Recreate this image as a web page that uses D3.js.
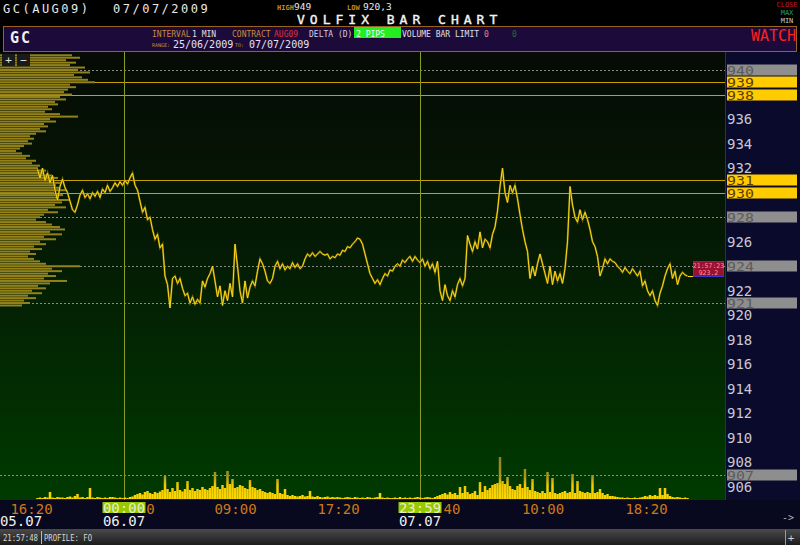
<!DOCTYPE html>
<html><head><meta charset="utf-8">
<script src="https://cdn.jsdelivr.net/npm/d3@7/dist/d3.min.js"></script>
<style>
html,body{margin:0;padding:0;background:#000;}
svg{display:block;}
text{font-family:"DejaVu Sans Mono","Liberation Mono",monospace;}
</style></head><body>
<svg id="c" width="800" height="545"></svg>
<script>
// ---------------- DATA ----------------
const priceStartSlot = 15; // first 1-min slot drawn
const prices = [
 931.9,931.2,932.0,931.0,931.6,930.8,931.4,930.2,929.4,930.5,
 931.1,930.4,930.0,929.3,928.6,928.4,929.0,929.8,930.2,929.6,
 929.9,929.5,930.0,929.7,930.1,929.6,930.3,930.0,930.6,930.1,
 930.4,930.8,930.5,930.9,930.6,931.0,930.7,931.2,931.6,930.6,
 930.2,929.3,928.4,928.8,927.8,928.0,927.0,926.2,926.6,925.5,
 925.8,923.2,922.5,920.6,923.0,923.2,922.6,923.0,922.2,921.6,
 921.8,921.0,921.5,920.9,921.3,921.0,922.8,922.3,923.0,923.4,
 924.0,922.8,921.5,922.4,920.8,922.0,921.2,922.6,921.5,925.8,
 924.0,922.0,921.0,922.8,921.4,922.3,922.8,922.4,923.6,924.6,
 924.2,923.6,922.8,922.6,923.0,924.0,924.4,923.8,924.2,923.7,
 924.0,923.8,924.3,923.9,924.2,923.8,924.0,924.6,925.0,924.8,
 925.1,924.8,925.0,925.2,925.0,924.9,925.0,924.6,924.8,924.7,
 925.0,924.9,925.3,925.2,925.6,925.5,925.8,926.0,926.3,926.2,
 925.8,925.0,924.2,923.4,923.0,922.6,922.9,922.5,923.0,923.4,
 923.2,923.7,923.6,924.0,924.2,924.0,924.5,924.3,924.6,924.8,
 924.4,924.8,924.5,924.3,924.6,924.0,924.4,923.8,924.2,923.5,
 924.4,922.0,921.2,922.5,921.6,921.2,922.0,921.5,922.5,923.0,
 922.4,923.0,926.5,925.8,925.2,926.0,925.4,926.8,925.5,926.2,
 926.0,925.5,926.6,927.2,928.5,930.5,932.0,930.0,929.2,930.6,
 930.0,930.6,929.5,928.2,927.0,926.0,925.2,923.0,924.0,923.2,
 924.2,925.0,924.2,923.4,922.6,924.0,922.5,923.6,922.8,923.4,
 922.6,923.8,926.0,930.5,929.0,928.0,927.6,928.6,927.8,928.4,
 927.8,927.0,926.0,925.6,924.8,923.2,923.8,924.6,924.2,924.6,
 924.4,924.3,924.0,923.8,923.5,923.9,923.6,923.4,923.8,923.5,
 923.2,923.6,922.4,922.8,922.0,921.6,922.0,921.2,920.8,921.8,
 922.4,923.2,923.8,924.2,923.0,923.6,922.5,923.2,923.5,923.3,
 923.2
];
const volumes = [
 2,3,2,4,3,14,3,2,4,3,
 3,2,4,5,3,6,10,3,4,2,
 4,22,3,2,4,3,2,3,2,4,
 4,3,2,3,2,3,2,4,5,8,
 10,12,9,14,16,12,10,14,12,15,
 18,46,20,14,22,16,34,18,15,20,
 36,18,22,16,20,18,24,20,18,22,
 26,54,24,20,28,22,56,30,40,22,
 24,28,26,22,20,38,24,22,18,20,
 16,14,12,14,12,10,40,12,10,20,
 8,6,8,6,5,6,8,5,6,16,
 5,4,6,4,3,4,5,3,4,3,
 4,3,2,3,4,3,2,4,3,2,
 3,2,4,3,2,3,4,12,3,2,
 3,2,2,3,2,4,2,3,2,3,
 2,3,4,3,2,3,4,3,2,4,
 6,8,10,12,9,14,10,12,8,24,
 12,26,14,10,12,16,8,34,14,26,
 18,22,28,30,32,84,36,30,44,26,
 20,18,26,30,22,60,24,18,40,16,
 14,12,16,12,54,14,42,12,10,12,
 14,16,12,14,50,12,36,16,14,12,
 14,12,48,12,14,20,12,8,10,6,
 6,5,4,3,3,2,3,2,2,3,
 2,3,4,6,5,8,6,8,6,22,
 8,22,10,6,4,3,4,3,2,3,
 2
];
// volume profile (price-level volume), top level first
const profileTopPrice = 941.2;
const profileStep = 0.2;
const profileVolumes = [
 72,80,66,76,70,85,78,90,74,82,
 88,95,70,76,68,64,72,60,66,55,
 58,48,52,45,60,78,50,56,44,48,
 40,46,36,30,34,28,32,24,20,16,
 22,30,26,36,32,40,38,46,44,52,
 58,50,62,56,60,66,54,63,58,70,
 62,55,66,48,58,44,40,36,46,52,
 60,65,50,62,44,56,40,46,34,42,
 30,36,28,34,40,46,80,52,62,48,
 56,44,67,50,38,46,32,42,28,36,
 24,30,22
];
const solidLevels = [939, 938, 931, 930];
const dottedLevels = [940, 928, 924, 921, 907];
const priceTicks = [936,934,932,926,922,920,918,916,914,912,910,908,906];
const timeTickSlots = [12.4, 94, 135.2, 217, 258.4];
const timeTickLabels = ["16:20","09:00","17:20","10:00","18:20"];
// tails of labels partly hidden behind the session boxes
const hiddenTickSlots = [60.2, 180.8];
const hiddenTickTails = ["0","40"];
const sessionSlots = [49.6, 168];
const sessionLabels = ["00:00","23:59"];
const dateSlots = [8.4, 49.6, 168];
const dateLabels = ["05.07","06.07","07.07"];
const lastTime = "21:57:23";
const lastPrice = 923.2;

// ---------------- LAYOUT ----------------
const W = 800, H = 545;
const plotL = 0, plotR = 725, plotT = 52, plotB = 500;
const svg = d3.select("#c");
const defs = svg.append("defs");

const x = d3.scaleLinear().domain([0, 290]).range([plotL, plotR]);
const y = d3.scaleLinear().domain([906, 940]).range([487, 70]);
const yVol = d3.scaleLinear().domain([0, 100]).range([499, 449]);
const xProf = d3.scaleLinear().domain([0, 100]).range([0, 100]);

// gradients
const bg = defs.append("linearGradient").attr("id","bg").attr("x1",0).attr("y1",0).attr("x2",0).attr("y2",1);
bg.append("stop").attr("offset","0").attr("stop-color","#060b05");
bg.append("stop").attr("offset","0.45").attr("stop-color","#041b04");
bg.append("stop").attr("offset","1").attr("stop-color","#003a00");
const vg = defs.append("linearGradient").attr("id","vg").attr("gradientUnits","userSpaceOnUse")
  .attr("x1",0).attr("y1",499).attr("x2",0).attr("y2",449);
vg.append("stop").attr("offset","0").attr("stop-color","#ffd800");
vg.append("stop").attr("offset","0.28").attr("stop-color","#f2c800");
vg.append("stop").attr("offset","0.45").attr("stop-color","#a89620");
vg.append("stop").attr("offset","1").attr("stop-color","#8a7c18");
const sb = defs.append("linearGradient").attr("id","sb").attr("x1",0).attr("y1",0).attr("x2",0).attr("y2",1);
sb.append("stop").attr("offset","0").attr("stop-color","#4a4a4a");
sb.append("stop").attr("offset","1").attr("stop-color","#1c1c1c");
defs.append("clipPath").attr("id","plotclip").append("rect")
  .attr("x",plotL).attr("y",plotT).attr("width",plotR-plotL).attr("height",plotB-plotT);

// backgrounds
svg.append("rect").attr("width",W).attr("height",H).attr("fill","#000");
svg.append("rect").attr("x",plotL).attr("y",plotT).attr("width",plotR-plotL).attr("height",plotB-plotT).attr("fill","url(#bg)");
svg.append("rect").attr("x",plotR).attr("y",plotT).attr("width",W-plotR).attr("height",plotB-plotT).attr("fill","#0a0a2c");
svg.append("rect").attr("x",0).attr("y",plotB).attr("width",W).attr("height",29).attr("fill","#08081e");
svg.append("rect").attr("x",0).attr("y",529).attr("width",W).attr("height",16).attr("fill","url(#sb)");
svg.append("line").attr("x1",plotR+0.5).attr("x2",plotR+0.5).attr("y1",plotT).attr("y2",plotB).attr("stroke","#4a2a22");

const plot = svg.append("g").attr("clip-path","url(#plotclip)");

// dotted levels
plot.selectAll("line.dot").data(dottedLevels).join("line").attr("class","dot")
  .attr("x1",plotL).attr("x2",plotR).attr("y1",d=>Math.round(y(d))+0.5).attr("y2",d=>Math.round(y(d))+0.5)
  .attr("stroke","#8a8a8a").attr("stroke-dasharray","2,2").attr("stroke-width",1);
// solid levels
plot.selectAll("line.sol").data(solidLevels).join("line").attr("class","sol")
  .attr("x1",plotL).attr("x2",plotR).attr("y1",d=>Math.round(y(d))+0.5).attr("y2",d=>Math.round(y(d))+0.5)
  .attr("stroke","#c8a000").attr("stroke-width",1);
// session separators
plot.selectAll("line.sess").data(sessionSlots).join("line").attr("class","sess")
  .attr("x1",d=>Math.round(x(d))+0.5).attr("x2",d=>Math.round(x(d))+0.5).attr("y1",plotT).attr("y2",plotB)
  .attr("stroke","#8a9c22").attr("stroke-width",1);

// volume profile
plot.selectAll("rect.prof").data(profileVolumes).join("rect").attr("class","prof")
  .attr("x",0)
  .attr("y",(d,i)=>y(profileTopPrice - i*profileStep) - 1)
  .attr("width",d=>xProf(d))
  .attr("height",2)
  .attr("fill","#93821a");

// volume bars
plot.selectAll("rect.vol").data(volumes).join("rect").attr("class","vol")
  .attr("x",(d,i)=>x(priceStartSlot+i)-1.25)
  .attr("y",d=>yVol(d))
  .attr("width",x(1)-x(0))
  .attr("height",d=>yVol(0)-yVol(d))
  .attr("fill","url(#vg)");

// price line
const line = d3.line().x((d,i)=>x(priceStartSlot+i)).y(d=>y(d));
plot.append("path").datum(prices).attr("d",line)
  .attr("fill","none").attr("stroke","#8a7600").attr("stroke-opacity",0.8).attr("stroke-width",2).attr("stroke-linejoin","miter");
plot.append("path").datum(prices).attr("d",line)
  .attr("fill","none").attr("stroke","#ffd81a").attr("stroke-width",1).attr("stroke-linejoin","miter");

// last price marker + box
const ly = y(lastPrice);
plot.append("line").attr("x1",688).attr("x2",693).attr("y1",Math.round(ly)+0.5).attr("y2",Math.round(ly)+0.5).attr("stroke","#ffd81a");
const lbox = svg.append("g").attr("transform",`translate(${plotR-32},${ly-15})`);
lbox.append("rect").attr("x",0.5).attr("y",0.5).attr("width",30).attr("height",15)
  .attr("fill","#9a1030").attr("stroke","#3a3ad0");
lbox.append("text").attr("x",15.5).attr("y",7).attr("text-anchor","middle").attr("font-size",6.5).attr("fill","#ff9aa0").text(lastTime);
lbox.append("text").attr("x",15.5).attr("y",14).attr("text-anchor","middle").attr("font-size",6.5).attr("fill","#ff9aa0").text(lastPrice.toFixed(1));

// right axis
const ay = svg.append("g").attr("transform",`translate(${plotR},0)`)
  .call(d3.axisRight(y).tickValues(priceTicks).tickSize(0).tickPadding(2).tickFormat(d3.format("d")));
ay.select(".domain").remove();
ay.selectAll("text").attr("font-size",14).attr("fill","#c8c8d4").attr("font-family","DejaVu Sans Mono");

// level boxes on right axis
const levels = dottedLevels.map(v=>({v,t:"dot"})).concat(solidLevels.map(v=>({v,t:"sol"})));
const lb = svg.selectAll("g.lvl").data(levels).join("g").attr("class","lvl")
  .attr("transform",d=>`translate(${plotR+1},${Math.round(y(d.v))-5.5})`);
lb.append("rect").attr("x",1).attr("y",0).attr("width",70).attr("height",11)
  .attr("fill",d=>d.t==="sol"?"#ffcc00":"#8e8e8e");
lb.append("text").attr("x",1).attr("y",10).attr("font-size",13).attr("textLength",27).attr("lengthAdjust","spacingAndGlyphs")
  .attr("fill",d=>d.t==="sol"?"#5a3c00":"#5c5c5c").text(d=>d.v);

// bottom axis (time)
const ax = svg.append("g").attr("transform",`translate(0,${plotB})`)
  .call(d3.axisBottom(x).tickValues(timeTickSlots).tickSize(0).tickPadding(4).tickFormat((d,i)=>timeTickLabels[i]));
ax.select(".domain").remove();
ax.selectAll("text").attr("font-size",14).attr("fill","#d07818").attr("font-family","DejaVu Sans Mono");
svg.selectAll("text.tail").data(hiddenTickSlots).join("text").attr("class","tail")
  .attr("x",d=>x(d)).attr("y",514).attr("text-anchor","middle").attr("font-size",14).attr("fill","#d07818")
  .text((d,i)=>hiddenTickTails[i]);

// session labels highlighted
const sl = svg.selectAll("g.sl").data(sessionSlots).join("g").attr("class","sl")
  .attr("transform",d=>`translate(${x(d)},${plotB})`);
sl.append("rect").attr("x",-21.5).attr("y",2).attr("width",43).attr("height",11).attr("fill","#98c800");
sl.append("text").attr("text-anchor","middle").attr("y",13).attr("font-size",14).attr("fill","#e6eed0")
  .text((d,i)=>sessionLabels[i]);

// date labels
svg.selectAll("text.date").data(dateSlots).join("text").attr("class","date")
  .attr("x",d=>x(d)).attr("y",526).attr("text-anchor","middle").attr("font-size",14).attr("fill","#f0f0f0")
  .text((d,i)=>dateLabels[i]);
svg.append("text").attr("x",782).attr("y",521).attr("font-size",10).attr("fill","#b0b0c0").text("->");

// status bar
svg.append("text").attr("x",3).attr("y",541).attr("font-size",9).attr("textLength",35).attr("lengthAdjust","spacingAndGlyphs").attr("fill","#d8d8d8").text("21:57:48");
svg.append("line").attr("x1",41.5).attr("x2",41.5).attr("y1",531).attr("y2",544).attr("stroke","#bbb");
svg.append("text").attr("x",44).attr("y",541).attr("font-size",9).attr("textLength",48).attr("lengthAdjust","spacingAndGlyphs").attr("fill","#d8d8d8").text("PROFILE: FO");
svg.append("line").attr("x1",785.5).attr("x2",785.5).attr("y1",530).attr("y2",545).attr("stroke","#999");
svg.append("text").attr("x",791).attr("y",542).attr("text-anchor","middle").attr("font-size",11).attr("fill","#ccc").text("+");

// +/- buttons
[["+",2],["\u2212",17]].forEach(([s,bx])=>{
  svg.append("rect").attr("x",bx).attr("y",54).attr("width",13).attr("height",12).attr("fill","#1a1a1a");
  svg.append("text").attr("x",bx+6.5).attr("y",64).attr("text-anchor","middle").attr("font-size",11).attr("fill","#e0e0e0").text(s);
});

// ---------------- HEADER ----------------
svg.append("text").attr("x",3).attr("y",12.5).attr("font-size",12).attr("letter-spacing",2.5).attr("fill","#e8e8e8").text("GC(AUG09)");
svg.append("text").attr("x",113).attr("y",12.5).attr("font-size",12).attr("letter-spacing",2.5).attr("fill","#e8e8e8").text("07/07/2009");
svg.append("text").attr("x",277).attr("y",10).attr("font-size",7).attr("font-weight","bold").attr("fill","#c88a18").text("HIGH");
svg.append("text").attr("x",294).attr("y",10).attr("font-size",9.5).attr("fill","#e8e8e8").text("949");
svg.append("text").attr("x",347).attr("y",10).attr("font-size",7).attr("font-weight","bold").attr("fill","#c88a18").text("LOW");
svg.append("text").attr("x",363).attr("y",10).attr("font-size",9.5).attr("fill","#e8e8e8").text("920,3");
svg.append("text").attr("x",297).attr("y",24).attr("font-size",13).attr("letter-spacing",5).attr("fill","#f4f4f4")
  .attr("stroke","#f4f4f4").attr("stroke-width",0.4).text("VOLFIX BAR CHART");
svg.append("text").attr("x",787).attr("y",7).attr("text-anchor","middle").attr("font-size",7).attr("fill","#c01c2c").text("CLOSE");
svg.append("text").attr("x",787).attr("y",15).attr("text-anchor","middle").attr("font-size",7).attr("fill","#2a9a66").text("MAX");
svg.append("text").attr("x",787).attr("y",23).attr("text-anchor","middle").attr("font-size",7).attr("fill","#c8c8c8").text("MIN");

// info bar
svg.append("rect").attr("x",3.5).attr("y",26.5).attr("width",793).attr("height",25).attr("fill","#1c0a3a").attr("stroke","#9a6222");
svg.append("text").attr("x",10).attr("y",43).attr("font-size",15).attr("font-weight","bold").attr("letter-spacing",2).attr("fill","#f0f0f0").text("GC");
const info = [
  [152,"INTERVAL","#c88a38"],[192,"1 MIN","#e0e0e0"],
  [232,"CONTRACT","#c88a38"],[274,"AUG09","#e03040"],
  [309,"DELTA (D)","#d4cce0"],
  [402,"VOLUME BAR LIMIT","#e0e0e0"],[484,"0","#e0808c"],[512,"0","#2a6a3a"]
];
svg.append("rect").attr("x",354).attr("y",27).attr("width",47).attr("height",11).attr("fill","#22ee22");
svg.selectAll("text.info").data(info).join("text").attr("class","info")
  .attr("x",d=>d[0]).attr("y",36.5).attr("font-size",8).attr("fill",d=>d[2]).text(d=>d[1]);
svg.append("text").attr("x",356).attr("y",36.5).attr("font-size",8).attr("fill","#f0fff0").text("2 PIPS");
svg.append("text").attr("x",152).attr("y",47).attr("font-size",5).attr("fill","#c88a38").text("RANGE:");
svg.append("text").attr("x",173).attr("y",48).attr("font-size",10).attr("fill","#e4e4f0").text("25/06/2009");
svg.append("text").attr("x",235).attr("y",47).attr("font-size",5).attr("fill","#c88a38").text("TO:");
svg.append("text").attr("x",249).attr("y",48).attr("font-size",10).attr("fill","#e4e4f0").text("07/07/2009");
svg.append("text").attr("x",751).attr("y",40.5).attr("font-size",15).attr("fill","#ff2020").text("WATCH");
</script>
</body></html>
